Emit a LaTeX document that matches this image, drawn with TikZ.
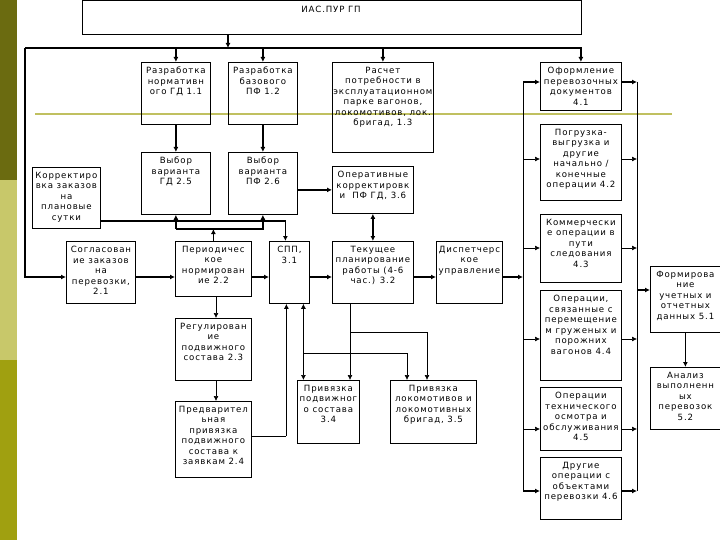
\documentclass[tikz,border=0pt]{standalone}
\usepackage{fontspec}
\setmainfont{DejaVu Sans}[LetterSpace=10]
\usetikzlibrary{arrows.meta,calc}
\definecolor{olD}{HTML}{6B6B10}
\definecolor{olL}{HTML}{C8C86A}
\definecolor{olM}{HTML}{A0A010}
\definecolor{olLine}{HTML}{C0C060}
\begin{document}
\begin{tikzpicture}[x=1pt,y=-1pt,
  box/.style={draw,line width=0.8pt,inner sep=0pt},
  txt/.style={font=\fontsize{8.6}{10.5}\selectfont,align=center,inner sep=0pt},
  ln/.style={line width=1.3pt},
  tn/.style={line width=0.7pt},
  ar/.style={-{Latex[length=5pt,width=5pt]}},
  dar/.style={{Latex[length=5pt,width=5pt]}-{Latex[length=5pt,width=5pt]}}]
\useasboundingbox (0,0) rectangle (720,540);
\fill[white] (0,0) rectangle (720,540);
\fill[olD] (0,0) rectangle (17,180);
\fill[olL] (0,180) rectangle (17,360);
\fill[olM] (0,360) rectangle (17,540);
\draw[olLine,line width=2pt] (35,114) -- (672,114);
\newcommand\bx[6]{%
  \node[box,anchor=north west,minimum width=#4,minimum height=#5] (#1) at (#2,#3) {};
  \node[txt,anchor=north] at ($(#1.north)+(0,5)$) {#6};}
\node[box,anchor=north west,minimum width=499,minimum height=34] (ias) at (82,0) {};
\node[txt,anchor=north] at (331,6) {ИАС.ПУР ГП};
\bx{n11}{141}{62}{69}{62}{Разработка\\нормативн\\ого ГД 1.1}
\bx{n12}{228}{62}{69}{62}{Разработка\\базового\\ПФ 1.2}
\bx{n13}{332}{62}{101}{90}{Расчет\\потребности в\\эксплуатационном\\парке вагонов,\\локомотивов, лок.\\бригад, 1.3}
\bx{n41}{540}{62}{81}{48}{Оформление\\перевозочных\\документов\\4.1}
\bx{n42}{540}{124}{81}{76}{Погрузка-\\выгрузка и\\другие\\начально /\\конечные\\операции 4.2}
\bx{n25}{141}{152}{69}{62}{Выбор\\варианта\\ГД 2.5}
\bx{n26}{228}{152}{69}{62}{Выбор\\варианта\\ПФ 2.6}
\bx{n36}{332}{166}{81}{47}{Оперативные\\корректировк\\и~~ПФ ГД, 3.6}
\bx{kor}{32}{167}{68}{61}{Корректиро\\вка заказов\\на\\плановые\\сутки}
\bx{n43}{540}{214}{81}{68}{Коммерчески\\е операции в\\пути\\следования\\4.3}
\bx{n21}{66}{241}{69}{62}{Согласован\\ие заказов\\на\\перевозки,\\2.1}
\bx{n22}{175}{241}{76}{55}{Периодичес\\кое\\нормирован\\ие 2.2}
\bx{spp}{269}{241}{40}{62}{СПП,\\3.1}
\bx{n32}{332}{241}{81}{62}{Текущее\\планирование\\работы (4-6\\час.) 3.2}
\bx{dsp}{436}{241}{66}{62}{Диспетчерс\\кое\\управление}
\bx{n51}{650}{266}{70}{66}{Формирова\\ние\\учетных и\\отчетных\\данных 5.1}
\bx{n44}{540}{290}{81}{90}{Операции,\\связанные с\\перемещение\\м груженых и\\порожних\\вагонов 4.4}
\bx{n23}{175}{318}{76}{62}{Регулирован\\ие\\подвижного\\состава 2.3}
\bx{n52}{650}{367}{70}{62}{Анализ\\выполненн\\ых\\перевозок\\5.2}
\bx{n34}{297}{380}{62}{63}{Привязка\\подвижног\\о состава\\3.4}
\bx{n35}{390}{380}{86}{63}{Привязка\\локомотивов и\\локомотивных\\бригад, 3.5}
\bx{n45}{540}{387}{81}{63}{Операции\\технического\\осмотра и\\обслуживания\\4.5}
\bx{n24}{175}{401}{76}{76}{Предварител\\ьная\\привязка\\подвижного\\состава к\\заявкам 2.4}
\bx{n46}{540}{457}{81}{62}{Другие\\операции с\\объектами\\перевозки 4.6}
% coordinates
\coordinate (tl) at (25,48);
\coordinate (h) at (0,277);
\coordinate (bl) at (523,82);
\coordinate (br) at (637,82);
% top distribution
\draw[ln,ar] (228,0 |- ias.south) -- (228,48);
\draw[ln,ar] (tl) -| (n41.north);
\draw[ln,ar] (tl) |- (n21.west |- h);
\draw[ln,ar] (n11.north |- tl) -- (n11.north);
\draw[ln,ar] (n12.north |- tl) -- (n12.north);
\draw[ln,ar] (n13.north |- tl) -- (n13.north);
\draw[ln,ar] (n11.south) -- (n25.north);
\draw[ln,ar] (n12.south) -- (n26.north);
% korr -> spp
\coordinate (sppn) at ($(spp.north)+(-4,0)$);
\draw[ln,ar] (kor.east |- 0,221) -| (sppn);
% periodic -> 2.5, 2.6
\draw[ln,ar] (n22.north) -- (n22.north |- 0,229);
\draw[ln,ar] (n25.south |- 0,229) -- (n25.south);
\draw[ln,ar] (n25.south |- 0,229) -| (n26.south);
% 2.6 -> 3.6, 3.6 <-> 3.2
\draw[ln,ar] (n26.east |- n36) -- (n36.west);
\draw[ln,dar] (n36.south) -- (n32.north);
% row y=277
\draw[ln,ar] (n21.east |- h) -- (n22.west |- h);
\draw[ln,ar] (n22.east |- h) -- (spp.west |- h);
\draw[ln,ar] (spp.east |- h) -- (n32.west |- h);
\draw[ln,ar] (n32.east |- h) -- (dsp.west |- h);
\draw[ln,ar] (dsp.east |- h) -- (bl |- h);
% buses
\draw[tn] (bl) -- (523,491);
\draw[tn] (br) -- (637,491);
\foreach \n/\y/\w in {n41/82/ln,n42/159/tn,n43/248/tn,n44/339/tn,n45/429/tn,n46/491/ln}{
  \draw[\w,ar] (bl |- 0,\y) -- (\n.west |- 0,\y);
  \draw[\w,ar] (\n.east |- 0,\y) -- (br |- 0,\y);
}
\draw[ln,ar] (br |- 0,290) -- (n51.west |- 0,290);
\draw[ln,ar] (n51.south) -- (n52.north);
% 2.2 -> 2.3 -> 2.4
\draw[tn,ar] (n22.south -| 216,0) -- (n23.north -| 216,0);
\draw[tn,ar] (n23.south -| 216,0) -- (n24.north -| 216,0);
% 2.4 -> spp
\coordinate (spps) at ($(spp.south)+(-3,0)$);
\draw[tn] (n24.east |- 0,436) -- (spps |- 0,436);
\draw[ln,ar] (spps |- 0,436) -- (spps);
% spp <-> 3.4
\coordinate (spps2) at ($(spp.south)+(14,0)$);
\draw[tn,dar] (spps2) -- (spps2 |- n34.north);
\draw[tn,ar] (spps2 |- 0,353) -| (407,0 |- n35.north);
% 3.2 -> 3.4, 3.5
\coordinate (c32) at (350,0 |- n32.south);
\draw[tn,ar] (c32) -- (c32 |- n34.north);
\draw[tn,ar] (c32 |- 0,332) -| (427,0 |- n35.north);
\end{tikzpicture}
\end{document}
